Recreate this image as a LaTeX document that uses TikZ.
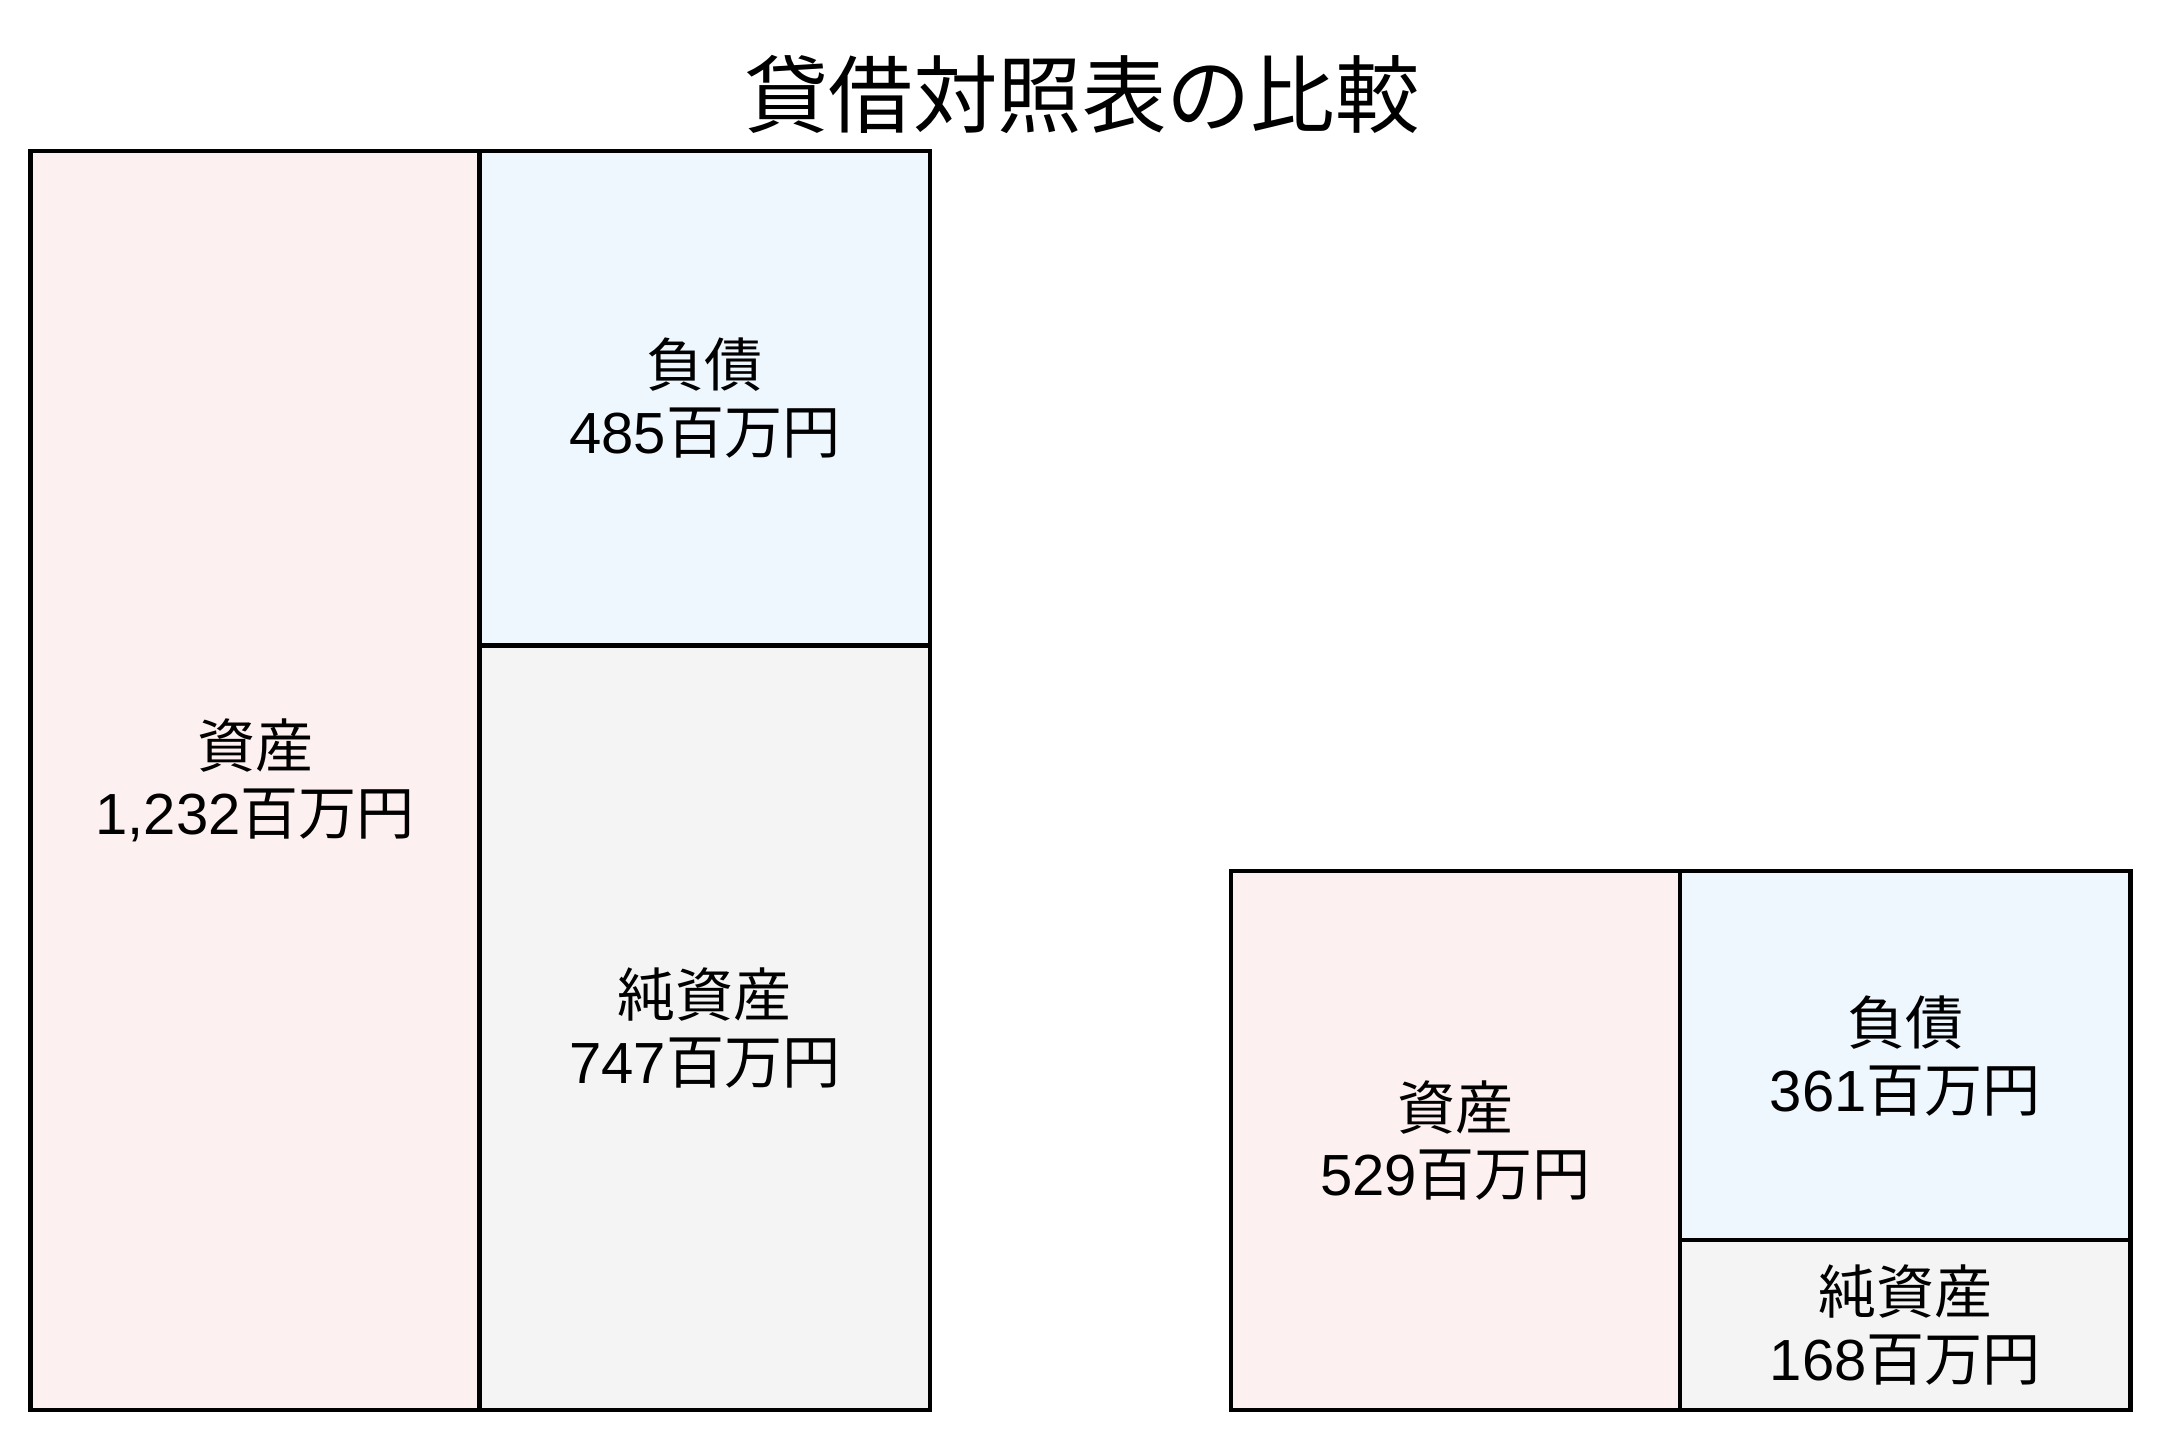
\documentclass[tikz,border=0pt]{standalone}
\usepackage{fontspec}
\setmainfont{Liberation Sans}
\newfontfamily\jp{Noto Sans CJK JP}
\usepackage{xcolor}
\usetikzlibrary{positioning}
\definecolor{assetfill}{RGB}{253,240,240}
\definecolor{debtfill}{RGB}{238,246,254}
\definecolor{equityfill}{RGB}{244,244,244}
\tikzset{
  block/.style={draw=black, line width=1.25pt, inner sep=0pt, outer sep=0pt,
    align=center, font=\fontsize{16.5}{19}\selectfont},
  assetbox/.style={block, fill=assetfill},
  debtbox/.style={block, fill=debtfill},
  equitybox/.style={block, fill=equityfill}
}

\begin{document}
\begin{tikzpicture}[x=0.01cm, y=-0.01cm]
  \useasboundingbox (0,0) rectangle (2160,1441);

  % Title
  \node[font=\jp\fontsize{24}{28}\selectfont] (title) at (1082,94) {貸借対照表の比較};

  % Left sheet
  \node[assetbox, anchor=north west, minimum width=4.488cm, minimum height=12.585cm]
    (assetL) at (30.5,151) {{\jp 資産}\\1,232{\jp 百万円}};
  \node[debtbox, anchor=north west, minimum width=4.503cm, minimum height=4.943cm]
    (debtL) at (assetL.north east) {{\jp 負債}\\485{\jp 百万円}};
  \node[equitybox, anchor=north west, minimum width=4.503cm, minimum height=7.642cm]
    (equityL) at (debtL.south west) {{\jp 純資産}\\747{\jp 百万円}};

  % Right sheet
  \node[assetbox, anchor=north west, minimum width=4.488cm, minimum height=5.385cm]
    (assetR) at (1231,871) {{\jp 資産}\\529{\jp 百万円}};
  \node[debtbox, anchor=north west, minimum width=4.503cm, minimum height=3.69cm]
    (debtR) at (assetR.north east) {{\jp 負債}\\361{\jp 百万円}};
  \node[equitybox, anchor=north west, minimum width=4.503cm, minimum height=1.695cm]
    (equityR) at (debtR.south west) {{\jp 純資産}\\168{\jp 百万円}};
\end{tikzpicture}
\end{document}
